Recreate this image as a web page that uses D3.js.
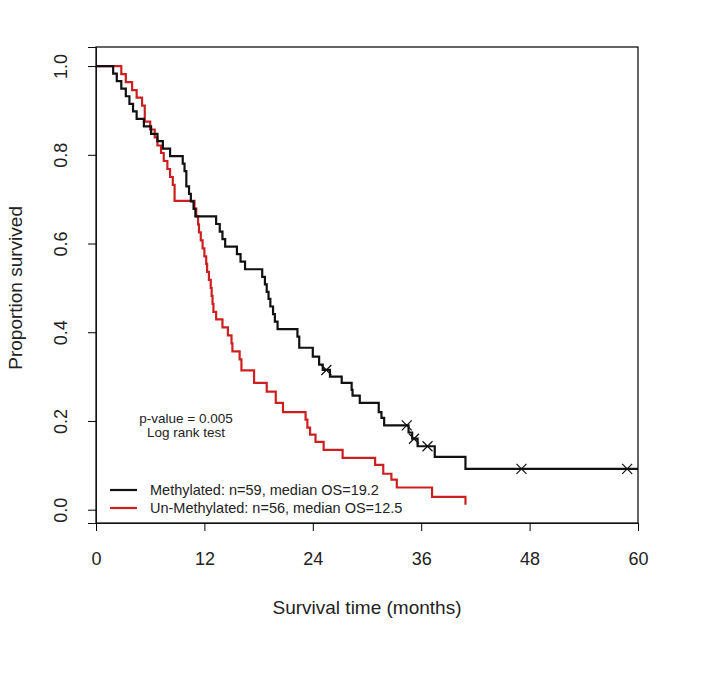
<!DOCTYPE html>
<html><head><meta charset="utf-8">
<script src="https://cdn.jsdelivr.net/npm/d3@7"></script>
<style>body{margin:0;background:#fff}svg{display:block}text{font-family:"Liberation Sans",Arial,sans-serif;fill:#222}</style>
</head><body><svg id="c" width="706" height="681"></svg>
<script>
const xTicks = [0,12,24,36,48,60];
const yTicks = [0,0.2,0.4,0.6,0.8,1.0];
const methTimes = [1.9,2.3,2.8,3.3,3.7,4.1,4.5,5.3,6.1,6.8,7.4,8.2,9.6,9.8,10.0,10.3,10.5,10.8,11.0,13.3,13.7,14.0,14.3,15.6,16.0,16.5,18.4,18.7,18.9,19.1,19.3,19.6,19.8,20.1,22.3,22.5,24.0,24.7,25.1,25.9,27.2,28.3,28.4,29.2,31.3,31.6,31.9,34.6,35.0,35.6,37.5,40.9];
const methSurv = [0.983,0.966,0.949,0.932,0.915,0.898,0.881,0.864,0.847,0.831,0.814,0.797,0.780,0.763,0.729,0.712,0.695,0.678,0.661,0.644,0.627,0.610,0.593,0.576,0.559,0.542,0.525,0.508,0.491,0.475,0.458,0.441,0.424,0.407,0.390,0.365,0.345,0.327,0.315,0.300,0.286,0.270,0.257,0.241,0.220,0.207,0.190,0.174,0.160,0.143,0.119,0.092];
const methCensor = [25.5,34.4,35.2,36.7,47.1,58.8];
const methEnd = 60;
const unmTimes = [2.8,3.3,4.0,4.5,5.1,5.4,6.0,6.5,6.8,7.2,7.5,7.9,8.2,8.5,8.7,10.9,11.1,11.3,11.4,11.6,11.8,12.0,12.2,12.3,12.5,12.7,12.8,12.9,13.0,13.3,14.0,14.6,15.0,15.1,15.9,16.1,17.5,18.9,19.9,20.7,23.2,23.4,23.7,24.3,25.2,27.3,30.9,31.8,32.7,33.3,37.2,40.9];
const unmSurv = [0.982,0.964,0.946,0.929,0.911,0.875,0.857,0.839,0.821,0.804,0.786,0.768,0.750,0.732,0.696,0.679,0.661,0.643,0.625,0.607,0.589,0.571,0.554,0.536,0.518,0.500,0.482,0.464,0.446,0.429,0.411,0.393,0.375,0.357,0.339,0.314,0.286,0.266,0.241,0.220,0.203,0.185,0.169,0.153,0.135,0.117,0.101,0.081,0.068,0.050,0.029,0.011];
const legendLabels = ["Methylated: n=59, median OS=19.2","Un-Methylated: n=56, median OS=12.5"];
const colors = ["#111","#cc2020"];

const svg = d3.select("#c");
const x = d3.scaleLinear().domain([0,60]).range([96,638]);
const y = d3.scaleLinear().domain([-0.03,1.043]).range([523,47]);

// box
svg.append("rect").attr("x",x(0)).attr("y",y(1.043)).attr("width",x(60)-x(0)).attr("height",y(-0.03)-y(1.043))
  .attr("fill","none").attr("stroke","#111").attr("stroke-width",1.3);

// axes
const xa = svg.append("g").attr("transform",`translate(0,${y(-0.03)})`)
  .call(d3.axisBottom(x).tickValues(xTicks).tickSize(8).tickPadding(21).tickFormat(d3.format("d")));
xa.select(".domain").attr("stroke","#111");
xa.selectAll("text").attr("font-size",18).style("font-family","'Liberation Sans',Arial,sans-serif").attr("fill","#222");
const ya = svg.append("g").attr("transform",`translate(${x(0)},0)`)
  .call(d3.axisLeft(y).tickValues(yTicks).tickSize(8).tickFormat(d3.format(".1f")));
ya.select(".domain").attr("stroke","#111");
ya.selectAll(".tick text").attr("font-size",18).style("font-family","'Liberation Sans',Arial,sans-serif").attr("fill","#222")
  .attr("text-anchor","middle").attr("x",0).attr("dy",0)
  .attr("transform","translate(-34,0) rotate(-90)").attr("dominant-baseline","middle");

svg.append("text").attr("x",(x(0)+x(60))/2).attr("y",614).attr("text-anchor","middle").attr("font-size",19).text("Survival time (months)");
svg.append("text").attr("transform",`translate(22,${(y(0)+y(1))/2}) rotate(-90)`).attr("text-anchor","middle").attr("font-size",19).text("Proportion survived");

// curves
function stepPts(times, surv, end){
  const pts=[[0,1]];
  times.forEach((t,i)=>pts.push([t,surv[i]]));
  if(end!=null) pts.push([end,surv[surv.length-1]]);
  return pts;
}
const line = d3.line().x(d=>x(d[0])).y(d=>y(d[1])).curve(d3.curveStepAfter);
svg.append("path").attr("d",line(stepPts(unmTimes,unmSurv,null))).attr("fill","none").attr("stroke",colors[1]).attr("stroke-width",2.2);
svg.append("path").attr("d",line(stepPts(methTimes,methSurv,methEnd))).attr("fill","none").attr("stroke",colors[0]).attr("stroke-width",2.2);

function survAt(times,surv,t){let s=1;times.forEach((tt,i)=>{if(tt<=t)s=surv[i];});return s;}
methCensor.forEach(t=>{
  const cx=x(t), cy=y(survAt(methTimes,methSurv,t)), r=5;
  svg.append("path").attr("d",`M${cx-r},${cy-r}L${cx+r},${cy+r}M${cx-r},${cy+r}L${cx+r},${cy-r}`)
    .attr("stroke","#111").attr("stroke-width",1.2);
});

// annotations
svg.append("text").attr("x",186).attr("y",423).attr("text-anchor","middle").attr("font-size",13.5).text("p-value = 0.005");
svg.append("text").attr("x",186).attr("y",437).attr("text-anchor","middle").attr("font-size",13.5).text("Log rank test");

legendLabels.forEach((l,i)=>{
  const ly = 490 + i*18;
  svg.append("line").attr("x1",110).attr("x2",137).attr("y1",ly).attr("y2",ly).attr("stroke",colors[i]).attr("stroke-width",2.2);
  svg.append("text").attr("x",150).attr("y",ly+5).attr("font-size",14.5).text(l);
});
</script></body></html>
